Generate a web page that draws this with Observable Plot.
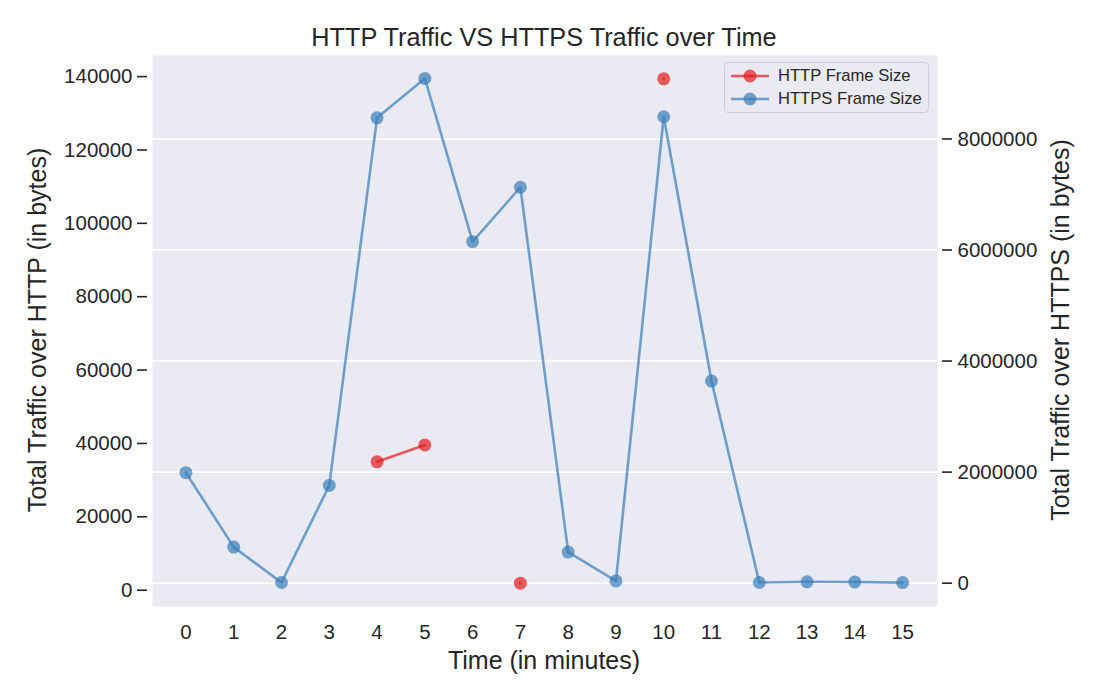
<!DOCTYPE html>
<html>
<head>
<meta charset="utf-8">
<script src="https://cdn.jsdelivr.net/npm/d3@7"></script>
<script src="https://cdn.jsdelivr.net/npm/@observablehq/plot@0.6"></script>
<style>
  html, body { margin: 0; padding: 0; background: #fff; }
  #wrap { position: relative; width: 1100px; height: 700px; font-family: "Liberation Sans", Arial, sans-serif; color: #262626; }
  .lbl { position: absolute; white-space: nowrap; font-size: 25px; color: #262626; }
  #legend { position: absolute; left: 724px; top: 62px; width: 203px; height: 49px; border: 1.5px solid #cfcfd6; border-radius: 4px; background: #eaeaf2; font-size: 16.6px; }
  .lrow { position: absolute; left: 0; height: 20px; }
  .lrow svg { position: absolute; left: 4px; top: 0; }
  .lrow span { position: absolute; left: 53px; top: 0; line-height: 20px; white-space: nowrap; }
</style>
</head>
<body>
<div id="wrap">
  <div id="chart"></div>
</div>
<script>
const minutes = [0, 1, 2, 3, 4, 5, 6, 7, 8, 9, 10, 11, 12, 13, 14, 15];
const httpBytes = [null, null, null, null, 35000, 39600, null, 1900, null, null, 139400, null, null, null, null, null];
const httpsBytes = [1990000, 650000, 12000, 1760000, 8380000, 9090000, 6150000, 7130000, 560000, 40000, 8400000, 3640000, 12000, 25000, 20000, 10000];
const leftTicks = [0, 20000, 40000, 60000, 80000, 100000, 120000, 140000];
const rightTicks = [0, 2000000, 4000000, 6000000, 8000000];
const seriesNames = ["HTTP Frame Size", "HTTPS Frame Size"];
const seriesColors = ["#e41a1c", "#377eb8"];

const leftDomain = [-4450, 145750];
const rightDomain = [-420000, 9503000];
const toLeft = v => leftDomain[0] + (v - rightDomain[0]) / (rightDomain[1] - rightDomain[0]) * (leftDomain[1] - leftDomain[0]);

const httpData = minutes.map((m, i) => ({m, v: httpBytes[i]}));
const httpsData = minutes.map((m, i) => ({m, v: toLeft(httpsBytes[i]), raw: httpsBytes[i]}));
const rightTickData = rightTicks.map(t => ({t, y: toLeft(t)}));

const font = "'Liberation Sans', Arial, sans-serif";

const chart = Plot.plot({
  width: 1100,
  height: 700,
  marginLeft: 152,
  marginRight: 163,
  marginTop: 55,
  marginBottom: 94,
  style: {fontFamily: font, fontSize: "20px", color: "#262626", background: "#fff"},
  x: {domain: [-0.7, 15.73], axis: null},
  y: {domain: leftDomain, axis: null},
  marks: [
    Plot.frame({fill: "#eaeaf2", stroke: null}),
    Plot.ruleY(rightTickData, {y: "y", stroke: "#fff", strokeWidth: 1.6}),
    Plot.line(httpData, {x: "m", y: "v", stroke: seriesColors[0], strokeOpacity: 0.7, strokeWidth: 2.6}),
    Plot.dot(httpData.filter(d => d.v != null), {x: "m", y: "v", r: 6.5, fill: seriesColors[0], fillOpacity: 0.7, stroke: null}),
    Plot.line(httpsData, {x: "m", y: "v", stroke: seriesColors[1], strokeOpacity: 0.7, strokeWidth: 2.6}),
    Plot.dot(httpsData, {x: "m", y: "v", r: 6.5, fill: seriesColors[1], fillOpacity: 0.7, stroke: null}),
    Plot.axisY(leftTicks, {anchor: "left", dx: -5, tickSize: 10, tickPadding: 5, strokeWidth: 1.6, stroke: "#262626", fill: "#262626", fontSize: 20.5, tickFormat: d => String(d), label: null}),
    Plot.axisY(rightTickData.map(d => d.y), {anchor: "right", dx: 4, tickSize: 10, tickPadding: 6, strokeWidth: 1.6, stroke: "#262626", fill: "#262626", fontSize: 20.5, tickFormat: (d, i) => String(rightTicks[i]), label: null}),
    Plot.axisX(minutes, {anchor: "bottom", tickSize: 0, tickPadding: 18, fill: "#262626", fontSize: 20.5, tickFormat: d => String(d), label: null})
  ]
});
document.getElementById("chart").appendChild(chart);

const wrap = document.getElementById("wrap");
function addLabel(text, cx, cy, rot, size) {
  const d = document.createElement("div");
  d.className = "lbl";
  d.textContent = text;
  if (size) d.style.fontSize = size + "px";
  d.style.left = cx + "px";
  d.style.top = cy + "px";
  d.style.transform = "translate(-50%, -50%)" + (rot ? " rotate(" + rot + "deg)" : "");
  wrap.appendChild(d);
}
addLabel("HTTP Traffic VS HTTPS Traffic over Time", 544, 37, 0, 25.3);
addLabel("Time (in minutes)", 544, 660, 0, 25);
addLabel("Total Traffic over HTTP (in bytes)", 37, 330, -90, 25);
addLabel("Total Traffic over HTTPS (in bytes)", 1060, 330, -90, 25);

const legend = document.createElement("div");
legend.id = "legend";
seriesNames.forEach((name, i) => {
  const row = document.createElement("div");
  row.className = "lrow";
  row.style.top = (3 + i * 23) + "px";
  row.innerHTML = `<svg width="42" height="20"><line x1="2" x2="40" y1="10" y2="10" stroke="${seriesColors[i]}" stroke-opacity="0.7" stroke-width="2.6"/><circle cx="21" cy="10" r="6.5" fill="${seriesColors[i]}" fill-opacity="0.7"/></svg><span>${name}</span>`;
  legend.appendChild(row);
});
wrap.appendChild(legend);
</script>
</body>
</html>
